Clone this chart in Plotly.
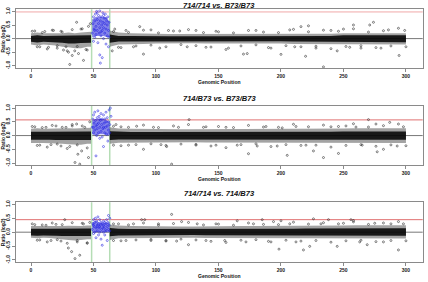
import plotly.graph_objects as go

titles = ["714/714 vs. B73/B73", "714/B73 vs. B73/B73", "714/714 vs. 714/B73"]
red_level = [0.98, 0.57, 0.45]
green_pos = [48.5, 63.0]
x_ticks = [0, 50, 100, 150, 200, 250, 300]
y_ticks = [-1.0, -0.5, 0.0, 0.5, 1.0]
y_ticktext = ["-1.0", "-0.5", "0.0", "0.5", "1.0"]

# dense black band envelopes (left of region / right of region)
bandL_x = [0, 5, 10, 15, 20, 25, 30, 35, 40, 45, 48]
bandR_x = [63, 70, 80, 90, 100, 110, 120, 130, 140, 150, 160, 170, 180, 190, 200,
           210, 220, 230, 240, 250, 260, 270, 280, 290, 300]

p1_outL_hi = [0.2, 0.22, 0.2, 0.2, 0.18, 0.2, 0.22, 0.2, 0.22, 0.25, 0.25]
p1_outL_lo = [-0.22, -0.25, -0.22, -0.24, -0.25, -0.3, -0.32, -0.35, -0.35, -0.3, -0.3]
p1_coreL_hi = [0.1, 0.12, 0.1, 0.1, 0.1, 0.1, 0.1, 0.1, 0.1, 0.12, 0.12]
p1_coreL_lo = [-0.12, -0.14, -0.12, -0.12, -0.14, -0.15, -0.18, -0.18, -0.16, -0.15, -0.15]
p1_outR_hi = [0.3, 0.22, 0.2, 0.18, 0.18, 0.17, 0.17, 0.16, 0.18, 0.18, 0.17, 0.17, 0.16,
              0.16, 0.16, 0.17, 0.18, 0.18, 0.18, 0.2, 0.2, 0.2, 0.2, 0.2, 0.2]
p1_outR_lo = [-0.3, -0.22, -0.2, -0.2, -0.18, -0.17, -0.17, -0.17, -0.18, -0.18, -0.2, -0.2,
              -0.18, -0.18, -0.18, -0.2, -0.2, -0.2, -0.22, -0.22, -0.22, -0.22, -0.22, -0.22, -0.22]
p1_coreR_hi = [0.15, 0.1, 0.1, 0.09, 0.09, 0.09, 0.09, 0.08, 0.09, 0.09, 0.09, 0.09, 0.08,
               0.08, 0.08, 0.09, 0.1, 0.1, 0.1, 0.12, 0.12, 0.12, 0.12, 0.12, 0.12]
p1_coreR_lo = [-0.15, -0.11, -0.1, -0.1, -0.09, -0.09, -0.09, -0.09, -0.1, -0.1, -0.1, -0.1,
               -0.1, -0.1, -0.1, -0.11, -0.11, -0.11, -0.12, -0.13, -0.13, -0.13, -0.13, -0.13, -0.13]

p2_outL_hi = [0.25, 0.27, 0.25, 0.26, 0.25, 0.26, 0.27, 0.26, 0.27, 0.28, 0.28]
p2_outL_lo = [-0.27, -0.28, -0.27, -0.28, -0.28, -0.3, -0.32, -0.33, -0.33, -0.3, -0.3]
p2_coreL_hi = [0.14, 0.15, 0.14, 0.14, 0.14, 0.14, 0.15, 0.14, 0.14, 0.15, 0.15]
p2_coreL_lo = [-0.15, -0.16, -0.15, -0.15, -0.16, -0.17, -0.18, -0.18, -0.17, -0.16, -0.16]
p2_outR_hi = [0.3, 0.26, 0.25, 0.24, 0.24, 0.23, 0.23, 0.23, 0.24, 0.24, 0.24, 0.24, 0.24,
              0.24, 0.24, 0.25, 0.25, 0.25, 0.26, 0.26, 0.27, 0.27, 0.27, 0.27, 0.27]
p2_outR_lo = [-0.3, -0.26, -0.25, -0.25, -0.24, -0.24, -0.24, -0.24, -0.25, -0.25, -0.25,
              -0.25, -0.25, -0.25, -0.25, -0.26, -0.26, -0.26, -0.26, -0.27, -0.27, -0.27, -0.27, -0.27, -0.27]
p2_coreR_hi = [0.16, 0.14, 0.13, 0.13, 0.13, 0.12, 0.12, 0.12, 0.13, 0.13, 0.13, 0.13, 0.13,
               0.13, 0.13, 0.14, 0.14, 0.14, 0.14, 0.15, 0.15, 0.15, 0.15, 0.15, 0.15]
p2_coreR_lo = [-0.16, -0.14, -0.14, -0.14, -0.13, -0.13, -0.13, -0.13, -0.14, -0.14, -0.14,
               -0.14, -0.14, -0.14, -0.14, -0.15, -0.15, -0.15, -0.15, -0.15, -0.15, -0.15, -0.15, -0.15, -0.15]

p3_outL_hi = [0.22, 0.23, 0.22, 0.22, 0.21, 0.22, 0.23, 0.22, 0.22, 0.24, 0.24]
p3_outL_lo = [-0.2, -0.22, -0.2, -0.21, -0.22, -0.25, -0.28, -0.3, -0.28, -0.25, -0.25]
p3_coreL_hi = [0.12, 0.13, 0.12, 0.12, 0.12, 0.12, 0.12, 0.12, 0.12, 0.13, 0.13]
p3_coreL_lo = [-0.12, -0.13, -0.12, -0.12, -0.13, -0.14, -0.15, -0.16, -0.15, -0.14, -0.14]
p3_outR_hi = [0.28, 0.24, 0.22, 0.21, 0.21, 0.2, 0.2, 0.2, 0.21, 0.21, 0.22, 0.22, 0.22,
              0.22, 0.22, 0.23, 0.23, 0.23, 0.24, 0.24, 0.25, 0.25, 0.25, 0.25, 0.25]
p3_outR_lo = [-0.28, -0.22, -0.21, -0.21, -0.2, -0.2, -0.2, -0.2, -0.21, -0.21, -0.21, -0.21,
              -0.21, -0.21, -0.21, -0.22, -0.22, -0.22, -0.22, -0.23, -0.23, -0.23, -0.23, -0.23, -0.23]
p3_coreR_hi = [0.15, 0.12, 0.11, 0.11, 0.11, 0.1, 0.1, 0.1, 0.11, 0.11, 0.12, 0.12, 0.12,
               0.12, 0.12, 0.12, 0.13, 0.13, 0.13, 0.14, 0.14, 0.14, 0.14, 0.14, 0.14]
p3_coreR_lo = [-0.15, -0.12, -0.11, -0.11, -0.11, -0.1, -0.1, -0.1, -0.11, -0.11, -0.11,
               -0.11, -0.11, -0.11, -0.11, -0.12, -0.12, -0.12, -0.13, -0.13, -0.13, -0.13, -0.13, -0.13, -0.13]

# probes along the fuzzy edge of the band
edge_x = [1, 5, 9, 13, 17, 21, 25, 29, 33, 37, 41, 45,
          66, 72, 78, 84, 90, 96, 102, 108, 114, 120, 126, 132, 138, 144, 150, 156, 162, 168,
          174, 180, 186, 192, 198, 204, 210, 216, 222, 228, 234, 240, 246, 252, 258, 264, 270,
          276, 282, 288, 294, 300]
p1_edge_y = [0.27, -0.3, 0.22, -0.38, 0.31, -0.26, 0.24, -0.45, 0.33, -0.29, 0.36, -0.42,
             0.26, -0.33, 0.23, -0.27, 0.31, -0.24, 0.21, -0.3, 0.28, -0.22,
             0.33, -0.26, 0.22, -0.31, 0.25, -0.4, 0.21, -0.27, 0.3, -0.23,
             0.24, -0.35, 0.22, -0.26, 0.34, -0.3, 0.25, -0.28, 0.31, -0.37,
             0.27, -0.29, 0.36, -0.26, 0.24, -0.33, 0.29, -0.27, 0.38, -0.3]
p2_edge_y = [0.33, -0.36, 0.29, -0.42, 0.37, -0.31, 0.3, -0.47, 0.4, -0.34, 0.35, -0.45,
             0.34, -0.37, 0.3, -0.33, 0.38, -0.3, 0.29, -0.36, 0.35, -0.31,
             0.4, -0.32, 0.3, -0.38, 0.33, -0.44, 0.29, -0.33, 0.37, -0.3,
             0.31, -0.4, 0.3, -0.33, 0.41, -0.36, 0.32, -0.35, 0.38, -0.42,
             0.33, -0.36, 0.43, -0.33, 0.31, -0.39, 0.36, -0.34, 0.42, -0.37]
p3_edge_y = [0.3, -0.29, 0.26, -0.35, 0.33, -0.27, 0.27, -0.4, 0.34, -0.3, 0.32, -0.38,
             0.3, -0.31, 0.26, -0.28, 0.33, -0.26, 0.25, -0.3, 0.31, -0.25,
             0.35, -0.28, 0.26, -0.33, 0.29, -0.37, 0.25, -0.29, 0.33, -0.27,
             0.28, -0.35, 0.27, -0.29, 0.36, -0.32, 0.29, -0.3, 0.34, -0.36,
             0.3, -0.31, 0.37, -0.29, 0.28, -0.34, 0.33, -0.3, 0.38, -0.31]

# scattered black probes
p1_black_x = [3, 7, 11, 14, 18, 21, 24, 26, 28, 30, 31, 33, 35, 36.5, 38, 40, 42, 44, 46, 47.5,
              65, 67, 70, 76, 82, 87, 90, 96, 103, 110, 119, 125, 132, 140, 148, 158, 170, 173,
              180, 190, 200, 207, 211, 216, 219.7, 222, 228, 234, 240, 245, 250, 255, 258, 264,
              271, 274, 280, 286, 294.5, 299]
p1_black_y = [0.28, -0.3, 0.26, -0.32, 0.3, -0.35, 0.27, -0.42, -0.3, -0.5, -0.95, -0.62, -0.45,
              0.6, -0.55, 0.35, -0.8, -0.4, 0.45, 0.55,
              -0.45, 0.35, -0.32, 0.3, -0.3, 0.44, -0.57, 0.32, -0.35, 0.3, 0.28, -0.3, 0.3, -0.32,
              0.27, -0.35, -0.57, -0.55, 0.3, -0.33, -0.58, 0.32, -0.3, 0.44, -0.65, 0.47, -0.35,
              -1.04, 0.3, -0.45, 0.35, -0.32, 0.5, -0.35, 0.5, 0.6, -0.35, 0.32, -0.62, 0.3]

p2_black_x = [3, 7, 12, 16, 20, 24, 28, 31, 33, 35.2, 36.5, 37.5, 39, 40.5, 43, 46, 47,
              66, 68, 72, 78, 84.5, 90, 98, 104, 108.5, 112.5, 118, 126.5, 132, 140, 148, 156,
              165, 174, 181, 188, 197, 201, 205, 212, 220, 226, 234, 240, 246, 252, 260, 265,
              270, 276, 277, 282, 287, 293, 298]
p2_black_y = [0.32, -0.35, 0.3, -0.33, 0.35, -0.38, 0.3, -0.4, 0.35, -0.98, 0.42, -0.68, -1.04,
              -0.56, 0.3, -0.8, 0.5,
              -0.35, 0.4, 0.32, -0.35, 0.34, -0.5, 0.3, -0.33, -0.4, -1.04, 0.3, 0.58, -0.35, 0.32,
              -0.35, 0.3, -0.35, -0.66, -0.38, 0.33, -0.38, 0.28, -0.72, 0.33, -0.35, -0.56, -0.8,
              0.32, -0.65, 0.35, 0.31, -0.35, 0.58, 0.42, -0.59, -0.5, 0.48, -0.38, 0.32]

p3_black_x = [3, 7, 12, 16, 20, 24, 27, 29.9, 32.5, 35.2, 37, 39, 42, 45, 47,
              66, 70, 76, 82, 88.5, 91, 96, 102, 108, 112.5, 116.5, 120.5, 126, 133, 140, 148,
              155, 165, 172, 178, 185, 190, 194, 198.4, 200, 207, 212, 218, 223, 226, 232, 238,
              245, 250, 256, 258, 263, 269, 275, 282, 288, 294, 298]
p3_black_y = [0.27, -0.28, 0.25, -0.3, 0.28, -0.32, 0.45, -0.57, -0.7, -0.95, -0.35, -0.83, 0.3,
              -0.4, 0.35,
              -0.3, 0.3, -0.3, 0.3, 0.45, 0.45, -0.3, 0.3, -0.32, 0.64, -0.32, 0.38, -0.45, 0.3,
              -0.3, 0.3, -0.3, 0.41, -0.35, 0.3, 0.45, -0.33, 0.38, -0.61, 0.41, 0.3, -0.35, -0.64,
              -0.51, 0.48, 0.3, 0.45, -0.51, 0.32, 0.45, 0.42, -0.35, -0.45, 0.32, -0.35, 0.3,
              -0.64, 0.3]

# blue (region of interest) probes
blue_core_x = [49, 52, 55, 58, 61, 63]
p1_bcore_hi = [0.7, 0.8, 0.8, 0.8, 0.75, 0.6]
p1_bcore_lo = [0.05, 0.1, 0.1, 0.1, 0.05, 0.05]
p2_bcore_hi = [0.55, 0.6, 0.6, 0.6, 0.55, 0.5]
p2_bcore_lo = [0.05, 0.0, 0.05, 0.05, 0.0, 0.0]
p3_bcore_hi = [0.35, 0.4, 0.35, 0.35, 0.35, 0.35]
p3_bcore_lo = [0.0, 0.0, 0.0, 0.0, 0.0, 0.0]

p1_blue_x = [49, 49.5, 50, 50, 50.5, 51, 51, 51.5, 52, 52, 52.5, 53, 53, 53.5, 54, 54, 54.5, 55,
             55, 55, 55.5, 55.5, 56, 56, 56.5, 57, 57, 57.5, 57.5, 58, 58, 58.5, 59, 59, 59.5, 60,
             60, 60.5, 61, 61, 61.5, 62, 62, 62.5, 62.5, 53, 51, 56, 58, 60]
p1_blue_y = [0.2, 0.55, 0.8, -0.1, 0.35, 0.65, 0.05, 0.9, 0.45, 0.15, 1.0, 0.7, 0.3, -0.15, 0.55,
             0.85, 0.2, 0.4, 1.02, -0.6, 0.65, -0.9, 0.1, 0.8, 0.5, 0.3, -0.7, 0.95, 0.6, 0.0, 0.4,
             0.75, 0.2, 0.55, 0.9, 0.35, -0.2, 0.65, 0.1, 0.5, 0.8, 0.3, -0.3, 0.6, 0.05, 0.95, 0.3,
             0.25, 0.85, 0.75]

p2_blue_x = [49, 49.5, 50, 50, 50.5, 51, 51, 51.5, 52, 52, 52.5, 53, 53, 53.5, 54, 54, 54.5, 55,
             55, 55.5, 56, 56, 56.5, 57, 57, 57.5, 58, 58, 58.5, 59, 59, 59.5, 60, 60, 60.5, 61,
             61, 61.5, 62, 62, 62.5, 63, 63, 63.5, 64, 50, 55, 58, 53]
p2_blue_y = [0.3, 0.6, 0.1, 0.75, 0.45, 0.2, 0.85, 0.55, -0.74, 0.35, 0.0, 0.65, 0.25, 0.9, 0.45,
             0.1, 0.7, 0.3, -0.1, 0.55, 0.8, 0.15, 0.4, 0.6, -0.05, 0.25, 0.75, -0.4, 0.45, 0.1,
             0.6, 0.3, 0.85, 0.5, 0.05, 0.35, 0.65, -0.2, 0.2, 0.5, 0.93, 0.4, 0.1, 1.0, 0.7, 0.3,
             0.6, 0.3, 0.4]

p3_blue_x = [49, 49.5, 50, 50, 50.5, 51, 51, 51.5, 52, 52, 52.5, 53, 53, 53.5, 54, 54, 54.5, 55,
             55, 55.5, 56, 56, 56.5, 57, 57, 57.5, 58, 58, 58.5, 59, 59, 59.5, 60, 60, 60.5, 61,
             61, 61.5, 62, 62, 62.5, 63, 63, 50, 55, 58, 53]
p3_blue_y = [0.1, 0.3, 0.45, -0.05, 0.2, 0.35, 0.0, 0.5, 0.15, -0.2, 0.4, 0.25, 0.05, 0.55, 0.3,
             -0.1, 0.15, 0.45, 0.0, 0.25, 0.35, -0.25, 0.1, -0.47, 0.3, 0.15, 0.4, 0.0, 0.2, 0.35,
             -0.1, 0.1, 0.3, 0.05, 0.45, 0.2, -0.3, 0.35, 0.1, 0.6, 0.25, 0.5, 0.05, 0.25, 0.2,
             0.25, 0.2]

panels = [
    dict(outL=(p1_outL_hi, p1_outL_lo), coreL=(p1_coreL_hi, p1_coreL_lo),
         outR=(p1_outR_hi, p1_outR_lo), coreR=(p1_coreR_hi, p1_coreR_lo), ey=p1_edge_y,
         bx=p1_black_x, by=p1_black_y, bcore=(p1_bcore_hi, p1_bcore_lo),
         ux=p1_blue_x, uy=p1_blue_y),
    dict(outL=(p2_outL_hi, p2_outL_lo), coreL=(p2_coreL_hi, p2_coreL_lo),
         outR=(p2_outR_hi, p2_outR_lo), coreR=(p2_coreR_hi, p2_coreR_lo), ey=p2_edge_y,
         bx=p2_black_x, by=p2_black_y, bcore=(p2_bcore_hi, p2_bcore_lo),
         ux=p2_blue_x, uy=p2_blue_y),
    dict(outL=(p3_outL_hi, p3_outL_lo), coreL=(p3_coreL_hi, p3_coreL_lo),
         outR=(p3_outR_hi, p3_outR_lo), coreR=(p3_coreR_hi, p3_coreR_lo), ey=p3_edge_y,
         bx=p3_black_x, by=p3_black_y, bcore=(p3_bcore_hi, p3_bcore_lo),
         ux=p3_blue_x, uy=p3_blue_y),
]

W, H = 428, 282
boxes = [(7.3, 66.7), (105.0, 165.0), (202.3, 263.0)]
title_y = [3.8, 97.5, 194.0]
x_left, x_right = 16.0, 422.7

fig = go.Figure()
FONT = "Liberation Sans, Arial, sans-serif"


def band(x, hi, lo, color, xa, ya):
    fig.add_trace(go.Scatter(x=list(x) + list(x)[::-1], y=list(hi) + list(lo)[::-1],
                             fill="toself", fillcolor=color, mode="lines",
                             line=dict(width=0), hoverinfo="skip", showlegend=False,
                             xaxis=xa, yaxis=ya))


def pts(x, y, color, xa, ya):
    fig.add_trace(go.Scatter(x=x, y=y, mode="markers",
                             marker=dict(symbol="circle-open", size=2, color=color,
                                         line=dict(width=0.55)),
                             showlegend=False, hoverinfo="skip", xaxis=xa, yaxis=ya))


for i, p in enumerate(panels):
    n = "" if i == 0 else str(i + 1)
    xa, ya = "x" + n, "y" + n
    band(bandL_x, *p["outL"], "rgba(50,50,50,0.45)", xa, ya)
    band(bandR_x, *p["outR"], "rgba(50,50,50,0.45)", xa, ya)
    band(bandL_x, *p["coreL"], "rgba(5,5,5,0.88)", xa, ya)
    band(bandR_x, *p["coreR"], "rgba(5,5,5,0.88)", xa, ya)
    pts(edge_x, p["ey"], "#222", xa, ya)
    pts(p["bx"], p["by"], "#222", xa, ya)
    band(blue_core_x, *p["bcore"], "rgba(50,50,220,0.6)", xa, ya)
    pts(p["ux"], p["uy"], "#1f1fe0", xa, ya)

    top, bot = boxes[i]
    d0, d1 = 1 - bot / H, 1 - top / H
    axcommon = dict(showline=True, mirror=True, linecolor="#8a8a8a", linewidth=1,
                    ticks="outside", ticklen=3, tickcolor="#8a8a8a", tickwidth=1,
                    showgrid=False, zeroline=False,
                    tickfont=dict(family=FONT, size=5, color="#222", weight="bold"))
    fig.layout["xaxis" + n] = dict(domain=[x_left / W, x_right / W], range=[-12, 313.4],
                                   anchor=ya, tickvals=x_ticks, **axcommon)
    fig.layout["yaxis" + n] = dict(domain=[d0, d1], range=[-1.08, 1.08], anchor=xa,
                                   tickvals=y_ticks, ticktext=y_ticktext, tickangle=-90,
                                   **axcommon)
    fig.add_shape(type="line", xref=xa + " domain", yref=ya, x0=0, x1=1, y0=0, y1=0,
                  line=dict(color="#555", width=0.8), layer="below")
    fig.add_shape(type="line", xref=xa + " domain", yref=ya, x0=0, x1=1,
                  y0=red_level[i], y1=red_level[i],
                  line=dict(color="#e07070" if i else "#f0a8a8", width=1), layer="below")
    for g in green_pos:
        fig.add_shape(type="line", xref=xa, yref=ya + " domain", x0=g, x1=g, y0=0, y1=1,
                      line=dict(color="#b5ddb5", width=1.5), layer="below")
    ctr = (x_left + x_right) / 2 / W
    fig.add_annotation(text=titles[i], xref="paper", yref="paper", x=ctr,
                       y=1 - title_y[i] / H, yanchor="middle", showarrow=False,
                       font=dict(family=FONT, size=7.5, color="#111", weight="bold",
                                 style="italic"))
    fig.add_annotation(text="Genomic Position", xref="paper", yref="paper", x=ctr,
                       y=1 - (bot + 14) / H, yanchor="middle", showarrow=False,
                       font=dict(family=FONT, size=5, color="#111", weight="bold"))
    fig.add_annotation(text="Ratio (log2)", xref="paper", yref="paper", x=3 / W,
                       y=1 - (top + bot) / 2 / H, textangle=-90, xanchor="center",
                       yanchor="middle", showarrow=False,
                       font=dict(family=FONT, size=5, color="#111", weight="bold"))

fig.update_layout(width=W, height=H, margin=dict(l=0, r=0, t=0, b=0), autosize=False,
                  paper_bgcolor="white", plot_bgcolor="white")
fig.write_html("out.html")
